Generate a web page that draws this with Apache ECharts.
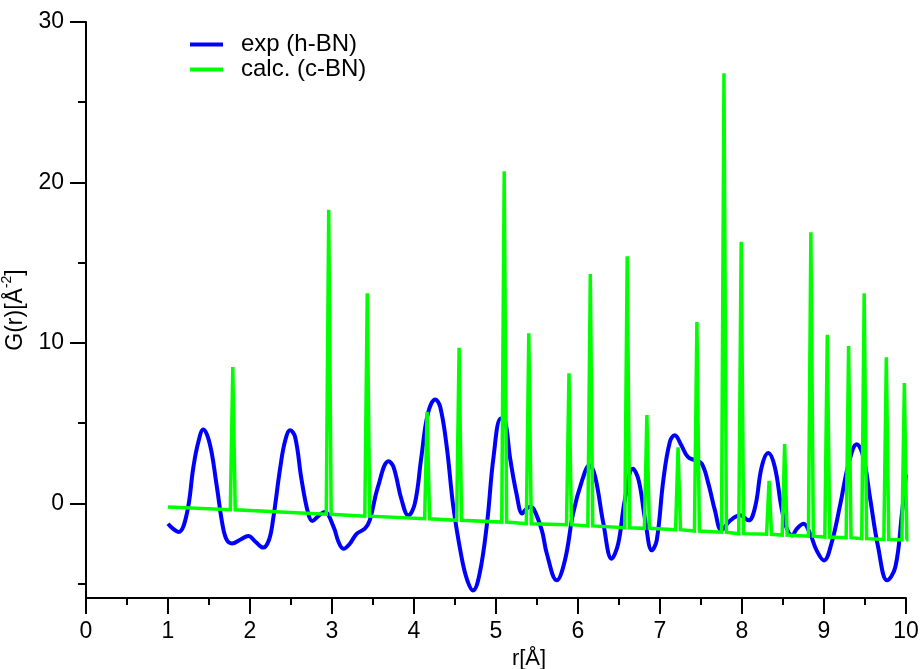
<!DOCTYPE html>
<html>
<head>
<meta charset="utf-8">
<title>G(r) of BN</title>
<script src="https://cdn.jsdelivr.net/npm/echarts@6/dist/echarts.min.js"></script>
<style>
  html, body { margin: 0; padding: 0; background: #fff; }
  #chart { width: 923px; height: 669px; }
</style>
</head>
<body>
<div id="chart"></div>
<script>
// Experimental pair distribution function of h-BN
const expR = [1.00, 1.06, 1.13, 1.23, 1.31, 1.37, 1.43, 1.51, 1.59, 1.67, 1.72, 1.78, 1.88, 1.98, 2.07, 2.16, 2.23, 2.28, 2.37, 2.43, 2.49, 2.55, 2.63, 2.71, 2.76, 2.83, 2.91, 3.02, 3.08, 3.14, 3.22, 3.30, 3.40, 3.46, 3.56, 3.69, 3.75, 3.85, 3.93, 4.01, 4.09, 4.17, 4.26, 4.32, 4.40, 4.48, 4.58, 4.65, 4.72, 4.80, 4.89, 4.97, 5.06, 5.11, 5.17, 5.25, 5.32, 5.36, 5.41, 5.46, 5.56, 5.62, 5.74, 5.84, 5.94, 6.05, 6.14, 6.21, 6.31, 6.41, 6.49, 6.57, 6.67, 6.74, 6.82, 6.90, 6.96, 7.04, 7.12, 7.18, 7.26, 7.34, 7.43, 7.51, 7.59, 7.67, 7.75, 7.85, 7.98, 8.08, 8.16, 8.24, 8.32, 8.40, 8.48, 8.54, 8.61, 8.67, 8.75, 8.83, 8.91, 9.00, 9.09, 9.20, 9.30, 9.40, 9.48, 9.56, 9.66, 9.77, 9.87, 9.95, 10.00];
const expG = [-1.27, -1.58, -1.79, -0.64, 2.27, 3.82, 4.60, 3.70, 1.23, -1.48, -2.31, -2.50, -2.27, -2.04, -2.41, -2.76, -2.30, -1.06, 2.27, 3.93, 4.55, 4.14, 1.43, -0.64, -1.10, -0.81, -0.54, -1.48, -2.41, -2.83, -2.50, -1.90, -1.58, -1.06, 1.02, 2.62, 2.27, 0.19, -0.75, -0.02, 2.89, 5.60, 6.47, 6.00, 3.50, -0.23, -3.35, -4.80, -5.43, -4.39, -1.27, 2.89, 5.28, 5.18, 2.89, 0.60, -0.64, -0.40, -0.23, -0.35, -1.70, -3.14, -4.80, -3.56, -0.64, 1.43, 2.37, 1.64, -1.27, -3.45, -2.52, 0.19, 2.16, 1.43, -1.06, -2.93, -2.31, 1.43, 3.82, 4.24, 3.62, 2.89, 2.68, 2.47, 1.23, -0.44, -1.68, -1.10, -0.75, -1.06, -0.23, 2.27, 3.14, 2.27, -0.23, -1.48, -2.00, -1.58, -1.27, -1.89, -2.93, -3.56, -2.52, -0.02, 2.47, 3.68, 2.89, 0.39, -2.72, -4.80, -3.97, -0.64, 1.80];

// Calculated c-BN: sharp peaks sitting on a sloping baseline
const calcStart = [1.00, -0.23];
const calcEnd = [10.00, -2.28];
const peakR = [1.79, 2.96, 3.43, 4.16, 4.55, 5.10, 5.40, 5.89, 6.15, 6.60, 6.84, 7.22, 7.45, 7.78, 7.99, 8.33, 8.52, 8.84, 9.04, 9.30, 9.49, 9.76, 9.98];
const peakG = [8.5, 18.3, 13.1, 5.7, 9.7, 20.7, 10.6, 8.1, 14.3, 15.4, 5.5, 3.5, 11.3, 26.8, 16.3, 1.4, 3.7, 16.9, 10.5, 9.8, 13.1, 9.1, 7.5];
const baseG = [-0.40, -0.68, -0.80, -0.96, -1.06, -1.17, -1.27, -1.33, -1.41, -1.52, -1.56, -1.64, -1.73, -1.80, -1.89, -1.93, -1.98, -2.05, -2.10, -2.14, -2.20, -2.25, -2.27];

// Axis ticks
const xTicks = [0, 1, 2, 3, 4, 5, 6, 7, 8, 9, 10];
const yMajor = [0, 10, 20, 30];
const yMinor = [-5, 5, 15, 25];

const seriesNames = ['exp (h-BN)', 'calc. (c-BN)'];

const expData = expR.map((r, i) => [r, expG[i]]);

// each peak is a narrow triangle rising from the baseline
const halfWidth = 0.03;
const calcData = [calcStart];
peakR.forEach((r, i) => {
  calcData.push([r - halfWidth, baseG[i]]);
  calcData.push([r, peakG[i]]);
  calcData.push([r + halfWidth, baseG[i]]);
});
calcData.push(calcEnd);

const font = 'Liberation Sans, Arial, sans-serif';
const black = '#000';

const chart = echarts.init(document.getElementById('chart'), null, { renderer: 'canvas' });
chart.setOption({
  animation: false,
  backgroundColor: '#fff',
  grid: { left: 86, right: 17, top: 22, bottom: 71, containLabel: false, outerBoundsMode: 'none' },
  legend: {
    data: seriesNames,
    orient: 'vertical',
    left: 190,
    top: 32,
    padding: 0,
    icon: 'rect',
    itemWidth: 33,
    itemHeight: 4,
    itemGap: 0,
    textStyle: { fontFamily: font, fontSize: 24, color: black, lineHeight: 25, padding: [0, 0, 0, 13] }
  },
  xAxis: {
    type: 'value',
    min: xTicks[0],
    max: xTicks[xTicks.length - 1],
    interval: 1,
    name: 'r[Å]',
    nameLocation: 'middle',
    nameGap: 46,
    nameTextStyle: { fontFamily: font, fontSize: 22, color: black, padding: [0, 0, 0, 66] },
    axisLine: { onZero: false, lineStyle: { color: black, width: 2 } },
    axisTick: { length: 16, lineStyle: { color: black, width: 2 } },
    minorTick: { show: true, splitNumber: 2, length: 7, lineStyle: { color: black, width: 2 } },
    splitLine: { show: false },
    minorSplitLine: { show: false },
    axisLabel: { fontFamily: font, fontSize: 23, color: black, margin: 22 }
  },
  yAxis: [
    {
      type: 'value',
      min: -5.9,
      max: 30,
      name: '{b|G(r)[Å}{sup|-2}{b|]}',
      nameLocation: 'middle',
      nameGap: 45,
      nameTextStyle: {
        color: black,
        rich: {
          b: { fontFamily: font, fontSize: 23, color: black, lineHeight: 27, verticalAlign: 'bottom' },
          sup: { fontFamily: font, fontSize: 14, color: black, lineHeight: 27, verticalAlign: 'top' }
        }
      },
      axisLine: { show: true, onZero: false, lineStyle: { color: black, width: 2 } },
      axisTick: { show: true, customValues: yMajor, length: 16, lineStyle: { color: black, width: 2 } },
      axisLabel: { customValues: yMajor, fontFamily: font, fontSize: 23, color: black, margin: 22 },
      splitLine: { show: false }
    },
    {
      type: 'value',
      min: -5.9,
      max: 30,
      position: 'left',
      axisLine: { show: false, onZero: false },
      axisTick: { show: true, customValues: yMinor, length: 8, lineStyle: { color: black, width: 2 } },
      axisLabel: { show: false },
      splitLine: { show: false }
    }
  ],
  series: [
    {
      name: seriesNames[0],
      type: 'line',
      data: expData,
      showSymbol: false,
      smooth: 0.4,
      clip: true,
      lineStyle: { color: '#0000ff', width: 4 },
      itemStyle: { color: '#0000ff' }
    },
    {
      name: seriesNames[1],
      type: 'line',
      data: calcData,
      showSymbol: false,
      clip: true,
      lineStyle: { color: '#00ff00', width: 3.5, join: 'miter' },
      itemStyle: { color: '#00ff00' }
    }
  ]
});
</script>
</body>
</html>
